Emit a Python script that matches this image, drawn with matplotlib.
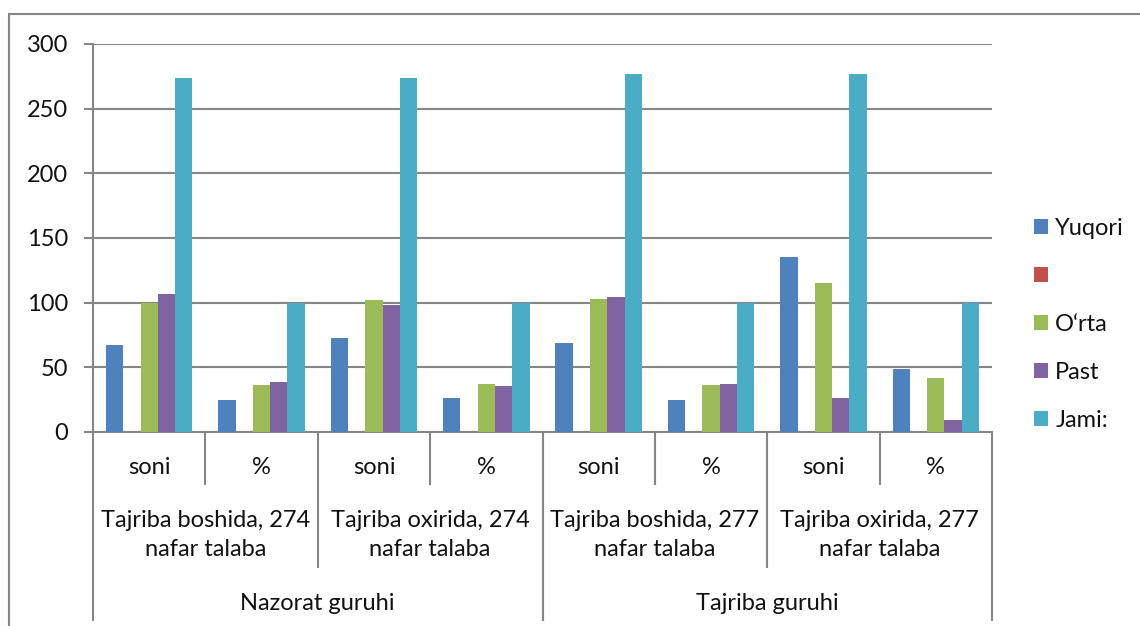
import matplotlib
matplotlib.use("Agg")
import matplotlib.pyplot as plt
import numpy as np
from matplotlib.patches import Rectangle

plt.rcParams["font.family"] = ["Lato", "DejaVu Sans"]

# level labels of the multi-level category axis
sub_labels = ["soni", "%", "soni", "%", "soni", "%", "soni", "%"]
stage_labels = [
    "Tajriba boshida, 274\nnafar talaba",
    "Tajriba oxirida, 274\nnafar talaba",
    "Tajriba boshida, 277\nnafar talaba",
    "Tajriba oxirida, 277\nnafar talaba",
]
group_labels = ["Nazorat guruhi", "Tajriba guruhi"]

series_names = ["Yuqori", "", "O\u2018rta", "Past", "Jami:"]
yuqori = [67, 24.5, 73, 26.5, 69, 25, 135, 49]
empty = [0, 0, 0, 0, 0, 0, 0, 0]
orta = [100, 36, 102, 37, 103, 36.5, 115, 41.5]
past = [107, 39, 98, 35.5, 104, 37.5, 26, 9]
jami = [274, 100, 274, 100, 277, 100, 277, 100]

colors = ["#4F81BD", "#C0504D", "#9BBB59", "#8064A2", "#4BACC6"]
GRID = "#868686"
TXT = "#111111"
FS = 17
W, H = 1140, 626


def px(x0, y0, w, h):
    """pixel box (top-left origin) -> figure fraction rect"""
    return [x0 / W, 1 - (y0 + h) / H, w / W, h / H]


fig = plt.figure(figsize=(W / 100, H / 100), dpi=100)

# outer chart border (runs off the right/bottom edge in the reference)
fig.patches.append(
    Rectangle((9 / W, -0.2), 1.2, 1.2 - 14 / H, transform=fig.transFigure,
              fill=False, edgecolor=GRID, linewidth=1.5)
)

left, top, right, bottom = 93, 44, 992, 432
ax = fig.add_axes(px(left, top, right - left, bottom - top))
ax_h = bottom - top

series = [yuqori, empty, orta, past, jami]
n = len(series)
x = np.arange(len(sub_labels))
bw = 1 / (n + 1.5)
bars = []
for i, (vals, c, name) in enumerate(zip(series, colors, series_names)):
    b = ax.bar(x + (i - (n - 1) / 2) * bw, vals, bw, color=c, label=name,
               zorder=3, linewidth=0)
    bars.append(b)

ax.set_xlim(-0.5, len(x) - 0.5)
ax.set_ylim(0, 300)
ax.set_yticks(np.arange(0, 301, 50))
ax.yaxis.grid(True, color=GRID, linewidth=1.5, zorder=0)
ax.set_axisbelow(True)
for s in ["top", "right"]:
    ax.spines[s].set_visible(False)
ax.spines["left"].set_color(GRID)
ax.spines["left"].set_linewidth(1.5)
ax.spines["bottom"].set_color(GRID)
ax.spines["bottom"].set_linewidth(1.5)
ax.set_xticks([])
ax.tick_params(axis="y", length=6.5, width=1.5, color=GRID, pad=11.5,
               labelsize=FS, labelcolor=TXT)

# multi-level category axis drawn below the plot
tr = ax.get_xaxis_transform()


def below(dy):
    return -dy / ax_h


for k in range(len(x) + 1):
    if k % 4 == 0:
        depth = 188
    elif k % 2 == 0:
        depth = 135
    else:
        depth = 52
    ax.plot([k - 0.5, k - 0.5], [0, below(depth)], transform=tr, color=GRID,
            linewidth=1.5, clip_on=False)

for xi, lab in zip(x, sub_labels):
    ax.text(xi, below(35), lab, transform=tr, ha="center", va="center",
            fontsize=FS, color=TXT)
for j, lab in enumerate(stage_labels):
    ax.text(2 * j + 0.5, below(103), lab, transform=tr, ha="center",
            va="center", fontsize=FS, color=TXT, linespacing=1.45)
for j, lab in enumerate(group_labels):
    ax.text(4 * j + 1.5, below(171), lab, transform=tr, ha="center",
            va="center", fontsize=FS, color=TXT)

handles = [b.patches[0] for b in bars]
fig.legend(handles, series_names, loc="upper left",
           bbox_to_anchor=(1034 / W, 1 - 218 / H), frameon=False,
           borderaxespad=0, borderpad=0,
           fontsize=FS, handlelength=0.6, handleheight=0.6,
           handletextpad=0.3, labelspacing=1.14, labelcolor=TXT)

fig.savefig("out.png", dpi=100)
